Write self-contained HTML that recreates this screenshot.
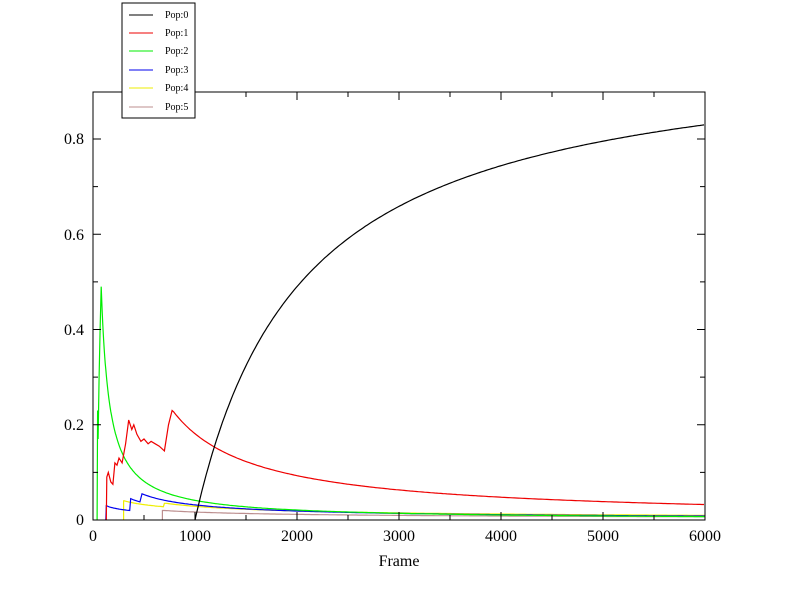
<!DOCTYPE html>
<html><head><meta charset="utf-8"><style>
body{margin:0;background:#fff}
svg{display:block}
text{font-family:"Liberation Serif",serif;fill:#000}
</style></head><body>
<svg id="s" width="792" height="612" xmlns="http://www.w3.org/2000/svg">
<rect x="0" y="0" width="792" height="612" fill="#fff"/>
<g id="curves" fill="none" stroke-width="1.2"></g>
<rect x="93" y="92" width="612" height="428" fill="none" stroke="#000" stroke-width="1"/>
<g id="ticks" stroke="#000" stroke-width="1"></g>
<g font-size="16" text-anchor="end">
<text x="84" y="525">0</text>
<text x="84" y="430">0.2</text>
<text x="84" y="335">0.4</text>
<text x="84" y="240">0.6</text>
<text x="84" y="144">0.8</text>
</g>
<g font-size="16" text-anchor="middle">
<text x="93" y="541">0</text>
<text x="195" y="541">1000</text>
<text x="297" y="541">2000</text>
<text x="399" y="541">3000</text>
<text x="501" y="541">4000</text>
<text x="603" y="541">5000</text>
<text x="705" y="541">6000</text>
<text x="399" y="566">Frame</text>
</g>
<rect x="122" y="3" width="73" height="115" fill="#fff" stroke="#000"/>
<g stroke-width="1">
<line x1="129" y1="15" x2="153" y2="15" stroke="#000"/>
<line x1="129" y1="33" x2="153" y2="33" stroke="#e00"/>
<line x1="129" y1="51" x2="153" y2="51" stroke="#0e0"/>
<line x1="129" y1="70" x2="153" y2="70" stroke="#00e"/>
<line x1="129" y1="88" x2="153" y2="88" stroke="#ee0"/>
<line x1="129" y1="107" x2="153" y2="107" stroke="#bc8f8f"/>
</g>
<g font-size="10">
<text x="165" y="18">Pop:0</text>
<text x="165" y="36">Pop:1</text>
<text x="165" y="54">Pop:2</text>
<text x="165" y="73">Pop:3</text>
<text x="165" y="91">Pop:4</text>
<text x="165" y="110">Pop:5</text>
</g>
</svg>
<script>
function X(f){return 93+f*0.102}
function Y(v){return 520-v*476.25}
var t=document.getElementById("ticks"),h="";
for(var i=1;i<12;i++){var x=93+i*51,L=(i%2==0)?8:5;h+='<line x1="'+x+'" y1="520" x2="'+x+'" y2="'+(520-L)+'"/><line x1="'+x+'" y1="92" x2="'+x+'" y2="'+(92+L)+'"/>';}
for(var j=1;j<9;j++){var y=520-j*47.625,L=(j%2==0)?8:5;h+='<line x1="93" y1="'+y+'" x2="'+(93+L)+'" y2="'+y+'"/><line x1="705" y1="'+y+'" x2="'+(705-L)+'" y2="'+y+'"/>';}
t.innerHTML=h;
function poly(pts,c){var s=pts.map(function(p){return X(p[0]).toFixed(1)+","+Y(p[1]).toFixed(1)}).join(" ");
return '<polyline points="'+s+'" stroke="'+c+'"/>';}
var g="";
var b=[[680,0],[680,0.02]];for(var f=700;f<=6000;f+=20)b.push([f,0.02*Math.pow(700/f,0.5)]);
g+=poly(b,"#bc8f8f");
var yl=[[300,0],[300,0.04]];for(f=310;f<=690;f+=10)yl.push([f,0.04*Math.pow(310/f,0.45)]);
yl.push([700,0.035]);for(f=720;f<=6000;f+=20)yl.push([f,0.035*Math.pow(720/f,0.6)]);
g+=poly(yl,"#ee0");
var bl=[[125,0],[130,0.03]];for(f=140;f<=360;f+=10)bl.push([f,0.03*Math.pow(130/f,0.4)]);
bl.push([370,0.045],[400,0.042],[460,0.038],[480,0.055]);
for(f=500;f<=6000;f+=20)bl.push([f,0.055*Math.pow(480/f,0.75)]);
g+=poly(bl,"#00e");
var gr=[[40,0],[45,0.23],[50,0.17],[60,0.3],[70,0.4],[80,0.49]];
for(f=90;f<=6000;f+=(f<600?5:20))gr.push([f,0.49*Math.pow(80/f,0.98)]);
g+=poly(gr,"#0e0");
var rd=[[130,0],[135,0.09],[150,0.1],[175,0.08],[195,0.075],[215,0.12],[235,0.115],[255,0.13],[285,0.12],[320,0.16],[350,0.21],[380,0.19],[400,0.2],[430,0.18],[470,0.165],[500,0.17],[540,0.16],[570,0.165],[610,0.16],[650,0.155],[700,0.145],[740,0.2],[775,0.23]];
for(f=790;f<=6000;f+=20)rd.push([f,0.23*Math.pow(780/f,0.96)]);
g+=poly(rd,"#e00");
var bk=[[1000,0]];for(f=1010;f<=6000;f+=20)bk.push([f,1.004*(f-1000)/(f-1000+1049)]);
g+=poly(bk,"#000");
document.getElementById("curves").innerHTML=g;
</script>
</body></html>
